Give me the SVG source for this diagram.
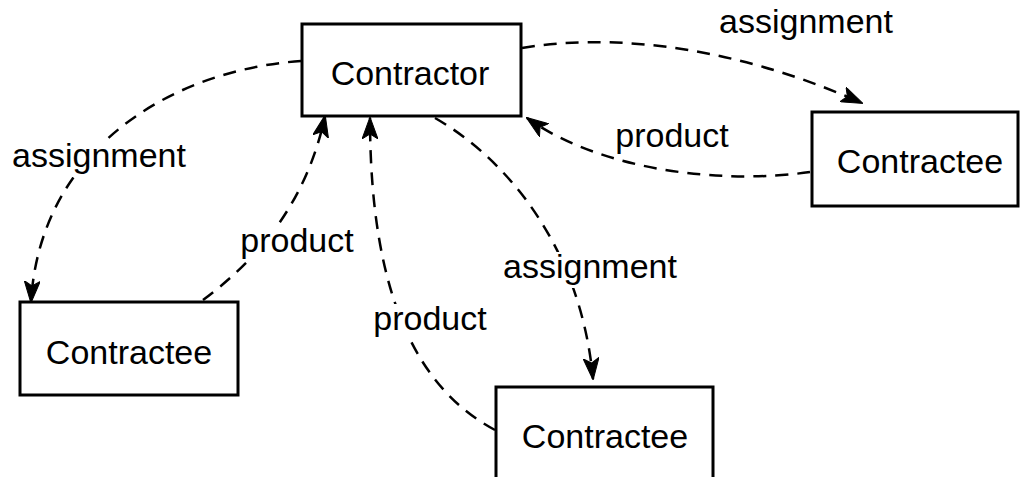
<svg xmlns="http://www.w3.org/2000/svg" width="1020" height="477" viewBox="0 0 1020 477">
  <style>
    .box { fill: #fff; stroke: #000; stroke-width: 3; }
    .name { font-family: "Liberation Sans", Arial, Helvetica, sans-serif; font-size: 34px; fill: #000; text-anchor: middle; }
    .edge { fill: none; stroke: #000; stroke-width: 2.5; stroke-dasharray: 13 9; marker-end: url(#head); }
    .tag { font-family: "Liberation Sans", Arial, Helvetica, sans-serif; font-size: 34px; fill: #000; text-anchor: middle; }
    .tagbg { fill: #fff; stroke: none; }
  </style>
  <defs>
    <!-- filled arrowhead, tip at the path end -->
    <marker id="head" viewBox="0 0 22 16" refX="21" refY="8" markerWidth="22" markerHeight="16" markerUnits="userSpaceOnUse" orient="auto">
      <path d="M0,0 L22,8 L0,16 L5,8 Z" fill="#000" stroke="#000" stroke-width="1" stroke-linejoin="miter"/>
    </marker>
  </defs>

  <rect width="1020" height="477" fill="#fff"/>

  <!-- connectors -->
  <g id="connectors">
    <path class="edge" d="M522,48 C600,35 720,40 862,103"/>
    <path class="edge" d="M810,172 C720,185 600,170 527,118"/>
    <path class="edge" d="M301,61 C170,70 40,150 31,302"/>
    <path class="edge" d="M203,300 C250,265 305,210 325,116"/>
    <path class="edge" d="M495,430 C420,390 370,300 370,118"/>
    <path class="edge" d="M435,118 C500,155 580,240 593,379"/>
  </g>

  <!-- edge labels -->
  <g id="labels">
    <rect class="tagbg" x="718" y="6" width="178" height="36"/>
    <text class="tag" x="806" y="33">assignment</text>
    <rect class="tagbg" x="613" y="121" width="119" height="35"/>
    <text class="tag" x="672" y="147">product</text>
    <rect class="tagbg" x="9" y="141" width="180" height="36"/>
    <text class="tag" x="99" y="167">assignment</text>
    <rect class="tagbg" x="237" y="226" width="120" height="35"/>
    <text class="tag" x="297" y="252">product</text>
    <rect class="tagbg" x="500" y="252" width="181" height="36"/>
    <text class="tag" x="590" y="278">assignment</text>
    <rect class="tagbg" x="370" y="304" width="120" height="35"/>
    <text class="tag" x="430" y="330">product</text>
  </g>

  <!-- nodes -->
  <g id="contractor">
    <rect class="box" x="302" y="24" width="219" height="92"/>
    <text class="name" x="410" y="85">Contractor</text>
  </g>
  <g id="contractee-right">
    <rect class="box" x="812" y="112" width="206" height="94"/>
    <text class="name" x="920" y="173">Contractee</text>
  </g>
  <g id="contractee-left">
    <rect class="box" x="20" y="302" width="218" height="93"/>
    <text class="name" x="129" y="364">Contractee</text>
  </g>
  <g id="contractee-bottom">
    <rect class="box" x="496" y="387" width="217" height="100"/>
    <text class="name" x="605" y="448">Contractee</text>
  </g>
</svg>
